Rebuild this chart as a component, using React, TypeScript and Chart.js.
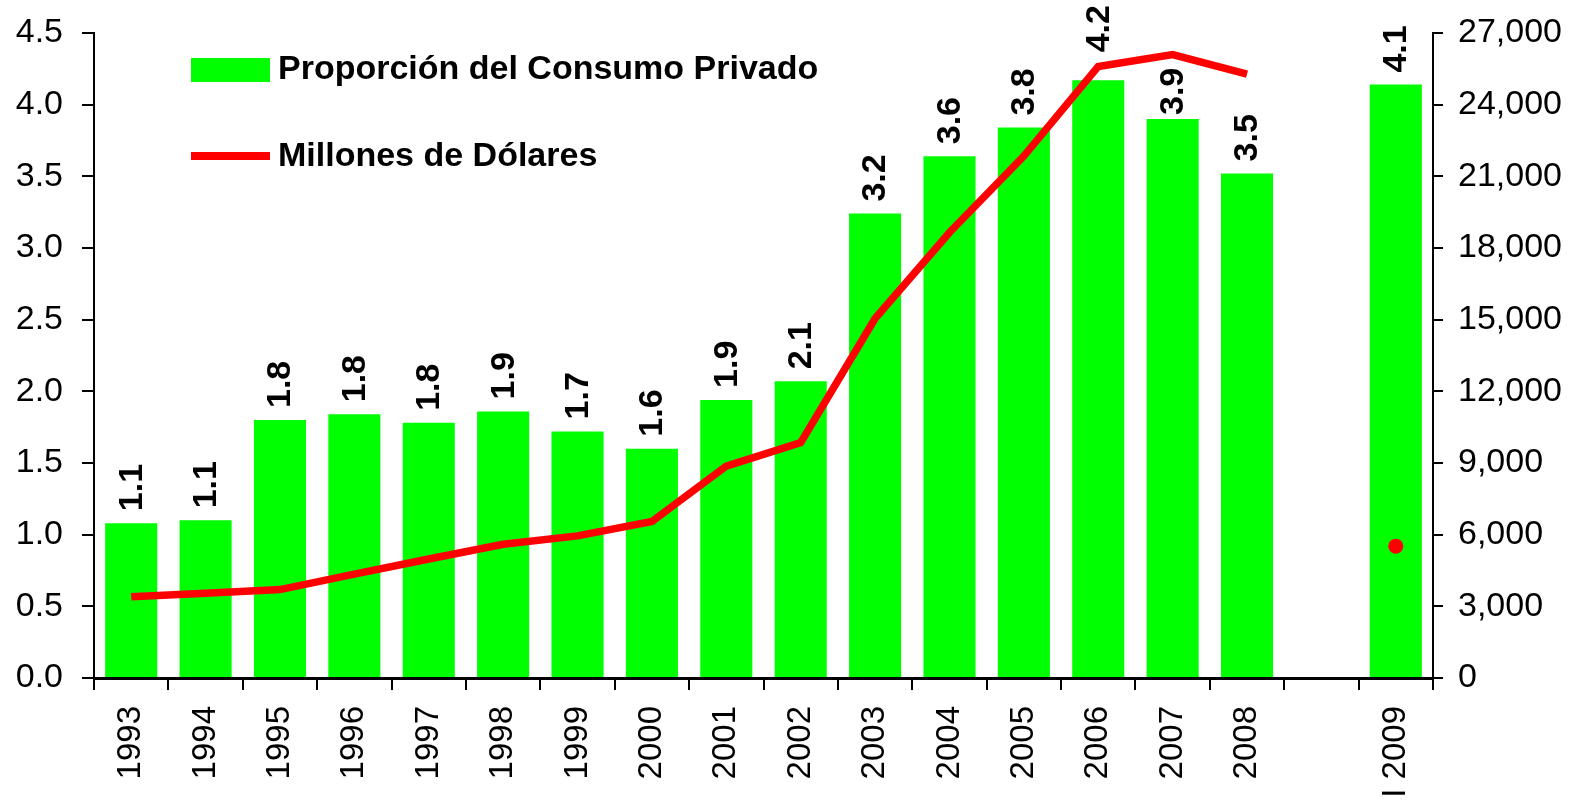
import React, { useEffect, useRef } from "react";
import { Chart, registerables } from "chart.js";

Chart.register(...registerables);

const categories = [
  "1993", "1994", "1995", "1996", "1997", "1998", "1999", "2000",
  "2001", "2002", "2003", "2004", "2005", "2006", "2007", "2008", "", "I 2009",
];
const proporcion = [
  1.08, 1.1, 1.8, 1.84, 1.78, 1.86, 1.72, 1.6, 1.94, 2.07, 3.24, 3.64, 3.84, 4.17, 3.9, 3.52, null, 4.14,
];
const millones = [
  3400, 3550, 3700, 4350, 4980, 5600, 5950, 6550, 8870, 9850, 15050, 18650, 21850, 25600, 26100, 25280, null, 5520,
];
const legendLabels = ["Proporción del Consumo Privado", "Millones de Dólares"];

const FONT = "'Liberation Sans', Arial, sans-serif";
const GREEN = "#00FF00";
const RED = "#FF0000";

const barLabelPlugin = {
  id: "barLabels",
  afterDatasetsDraw(chart: any) {
    const ctx = chart.ctx;
    const meta = chart.getDatasetMeta(0);
    const shift: Record<number, number> = { 13: 16, 14: -8 };
    ctx.save();
    ctx.font = `bold 34px ${FONT}`;
    ctx.fillStyle = "#000";
    ctx.textAlign = "left";
    ctx.textBaseline = "middle";
    meta.data.forEach((bar: any, i: number) => {
      const v = proporcion[i];
      if (v === null || v === undefined) return;
      const gap = 12 + (shift[i] || 0);
      ctx.save();
      ctx.translate(bar.x + 1, bar.y - gap);
      ctx.rotate(-Math.PI / 2);
      ctx.fillText(v.toFixed(1), 0, 0);
      ctx.restore();
    });
    ctx.restore();
  },
};

const legendPlugin = {
  id: "customLegend",
  afterDraw(chart: any) {
    const ctx = chart.ctx;
    const a = chart.chartArea;
    const x0 = a.left + 97;
    ctx.save();
    ctx.fillStyle = GREEN;
    ctx.fillRect(x0, a.top + 25, 79, 24);
    ctx.fillStyle = RED;
    ctx.fillRect(x0, a.top + 119, 79, 8);
    ctx.fillStyle = "#000";
    ctx.font = `bold 34px ${FONT}`;
    ctx.textAlign = "left";
    ctx.textBaseline = "middle";
    ctx.fillText(legendLabels[0], x0 + 87, a.top + 37);
    ctx.fillText(legendLabels[1], x0 + 87, a.top + 124);
    ctx.restore();
  },
};

const fixY = (w: number) => (s: any) => {
  s.width = w;
  s.paddingTop = 0;
  s.paddingBottom = 0;
};

export default function App() {
  const ref = useRef<HTMLCanvasElement>(null);

  useEffect(() => {
    document.body.style.margin = "0";
    if (!ref.current) return;
    const chart = new Chart(ref.current, {
      type: "bar",
      data: {
        labels: categories,
        datasets: [
          {
            type: "bar",
            label: legendLabels[0],
            data: proporcion,
            backgroundColor: GREEN,
            borderWidth: 0,
            barPercentage: 0.7,
            categoryPercentage: 1,
            yAxisID: "y",
            order: 2,
          },
          {
            type: "line",
            label: legendLabels[1],
            data: millones,
            borderColor: RED,
            backgroundColor: RED,
            borderWidth: 7.5,
            pointRadius: (c: any) => (c.dataIndex === millones.length - 1 ? 7.5 : 0),
            pointBorderWidth: 0,
            spanGaps: false,
            tension: 0,
            borderJoinStyle: "miter",
            yAxisID: "y1",
            order: 1,
          } as any,
        ],
      },
      options: {
        responsive: false,
        animation: false,
        layout: { padding: { top: 33 } },
        plugins: {
          legend: { display: false },
          tooltip: { enabled: false },
        },
        scales: {
          x: {
            offset: true,
            grid: {
              offset: true,
              drawOnChartArea: false,
              drawTicks: true,
              tickLength: 12,
              color: "#000",
              lineWidth: 2,
            },
            border: { display: true, color: "#000", width: 3 },
            ticks: {
              color: "#000",
              font: { family: FONT, size: 33 },
              maxRotation: 90,
              minRotation: 90,
              autoSkip: false,
              padding: 16,
            },
            afterFit: (s: any) => {
              s.height = 125;
              s.paddingLeft = 0;
              s.paddingRight = 0;
            },
          },
          y: {
            position: "left",
            min: 0,
            max: 4.5,
            grid: {
              drawOnChartArea: false,
              drawTicks: true,
              tickLength: 12,
              color: "#000",
              lineWidth: 2,
            },
            border: { display: true, color: "#000", width: 2 },
            ticks: {
              stepSize: 0.5,
              color: "#000",
              font: { family: FONT, size: 34 },
              padding: 19,
              callback: (v: any) => Number(v).toFixed(1),
            },
            afterFit: fixY(94),
          },
          y1: {
            position: "right",
            min: 0,
            max: 27000,
            grid: {
              drawOnChartArea: false,
              drawTicks: true,
              tickLength: 10,
              color: "#000",
              lineWidth: 2,
            },
            border: { display: true, color: "#000", width: 2 },
            ticks: {
              stepSize: 3000,
              color: "#000",
              font: { family: FONT, size: 34 },
              padding: 15,
              callback: (v: any) => Number(v).toLocaleString("en-US"),
            },
            afterFit: fixY(152),
          },
        },
      },
      plugins: [barLabelPlugin, legendPlugin],
    });
    return () => chart.destroy();
  }, []);

  return (
    <div style={{ width: 1585, height: 803 }}>
      <canvas ref={ref} width={1585} height={803} />
    </div>
  );
}
